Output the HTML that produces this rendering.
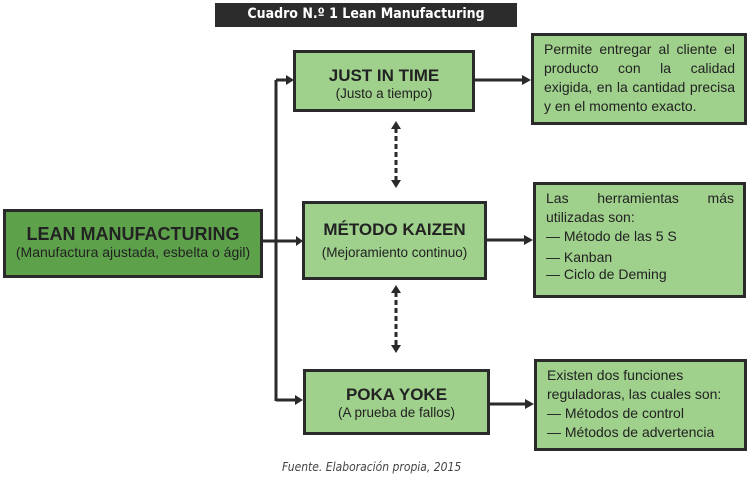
<!DOCTYPE html>
<html><head><meta charset="utf-8"><style>
body{margin:0;width:753px;height:481px;background:#fff;position:relative;font-family:"Liberation Sans",sans-serif;overflow:hidden}
.b{position:absolute;box-sizing:border-box;border:3px solid #2a2a2a;background:#9fd08c;color:#222;font-family:"Liberation Sans",sans-serif}
.c{text-align:center}
.t{font-weight:bold;font-size:17px;line-height:20px}
.s{font-size:13.5px;line-height:16px}
.r{font-size:14px;line-height:19px;padding:4px 9px 0 10px}
.j{text-align:justify;text-align-last:left}
</style></head><body>
<div style="position:absolute;left:215px;top:3px;width:302px;height:24px;background:#2c2c2c;color:#fff;font-weight:bold;font-size:14px;line-height:22px;text-align:center;font-family:'DejaVu Sans Condensed','DejaVu Sans',sans-serif">Cuadro N.º 1 Lean Manufacturing</div>
<svg width="753" height="481" style="position:absolute;left:0;top:0">
<g stroke="#2a2a2a" stroke-width="3" fill="none">
<line x1="276" y1="80" x2="276" y2="401"/>
<line x1="262" y1="241" x2="296" y2="241"/>
<line x1="276" y1="80" x2="287" y2="80"/>
<line x1="276" y1="400" x2="296" y2="400"/>
<line x1="474" y1="80" x2="522" y2="80"/>
<line x1="486" y1="240" x2="524" y2="240"/>
<line x1="489" y1="404" x2="525" y2="404"/>
<line x1="396" y1="128" x2="396" y2="180" stroke-dasharray="5,3"/>
<line x1="396" y1="292" x2="396" y2="346" stroke-dasharray="5,3"/>
</g>
<g fill="#2a2a2a">
<polygon points="286,75 294,80 286,85"/>
<polygon points="296,236 303,241 296,246"/>
<polygon points="295,395 303,400 295,405"/>
<polygon points="522,75 531,80 522,85"/>
<polygon points="524,235 533,240 524,245"/>
<polygon points="525,399 534,404 525,409"/>
<polygon points="391,129 396,121 401,129"/>
<polygon points="391,180 396,188 401,180"/>
<polygon points="391,293 396,285 401,293"/>
<polygon points="391,345 396,353 401,345"/>
</g>
</svg>
<div class="b c" style="left:3px;top:209px;width:260px;height:69px;background:#5da24b;padding-top:12px"><div class="t" style="font-size:18px">LEAN MANUFACTURING</div><div class="s" style="font-size:14px">(Manufactura ajustada, esbelta o ágil)</div></div>
<div class="b c" style="left:293px;top:50px;width:182px;height:62px;padding-top:13px"><div class="t">JUST IN TIME</div><div class="s">(Justo a tiempo)</div></div>
<div class="b c" style="left:302px;top:201px;width:185px;height:79px;padding-top:16px"><div class="t" style="margin-bottom:5px">MÉTODO KAIZEN</div><div class="s">(Mejoramiento continuo)</div></div>
<div class="b c" style="left:303px;top:369px;width:187px;height:66px;padding-top:13px"><div class="t">POKA YOKE</div><div class="s">(A prueba de fallos)</div></div>
<div class="b r" style="left:531px;top:33px;width:216px;height:92px"><div class="j">Permite entregar al cliente el producto con la calidad exigida, en la cantidad precisa y en el momento exacto.</div></div>
<div class="b r" style="left:533px;top:182px;width:213px;height:116px"><div class="j">Las herramientas más utilizadas son:</div><div>— Método de las 5 S</div><div style="margin-top:2px">— Kanban</div><div style="margin-top:-2px">— Ciclo de Deming</div></div>
<div class="b r" style="left:534px;top:359px;width:213px;height:92px"><div>Existen dos funciones reguladoras, las cuales son:</div><div>— Métodos de control</div><div>— Métodos de advertencia</div></div>
<div style="position:absolute;left:282px;top:460px;font-family:'DejaVu Sans Condensed','DejaVu Sans',sans-serif;font-style:italic;font-size:12px;color:#444">Fuente. Elaboración propia, 2015</div>
</body></html>
